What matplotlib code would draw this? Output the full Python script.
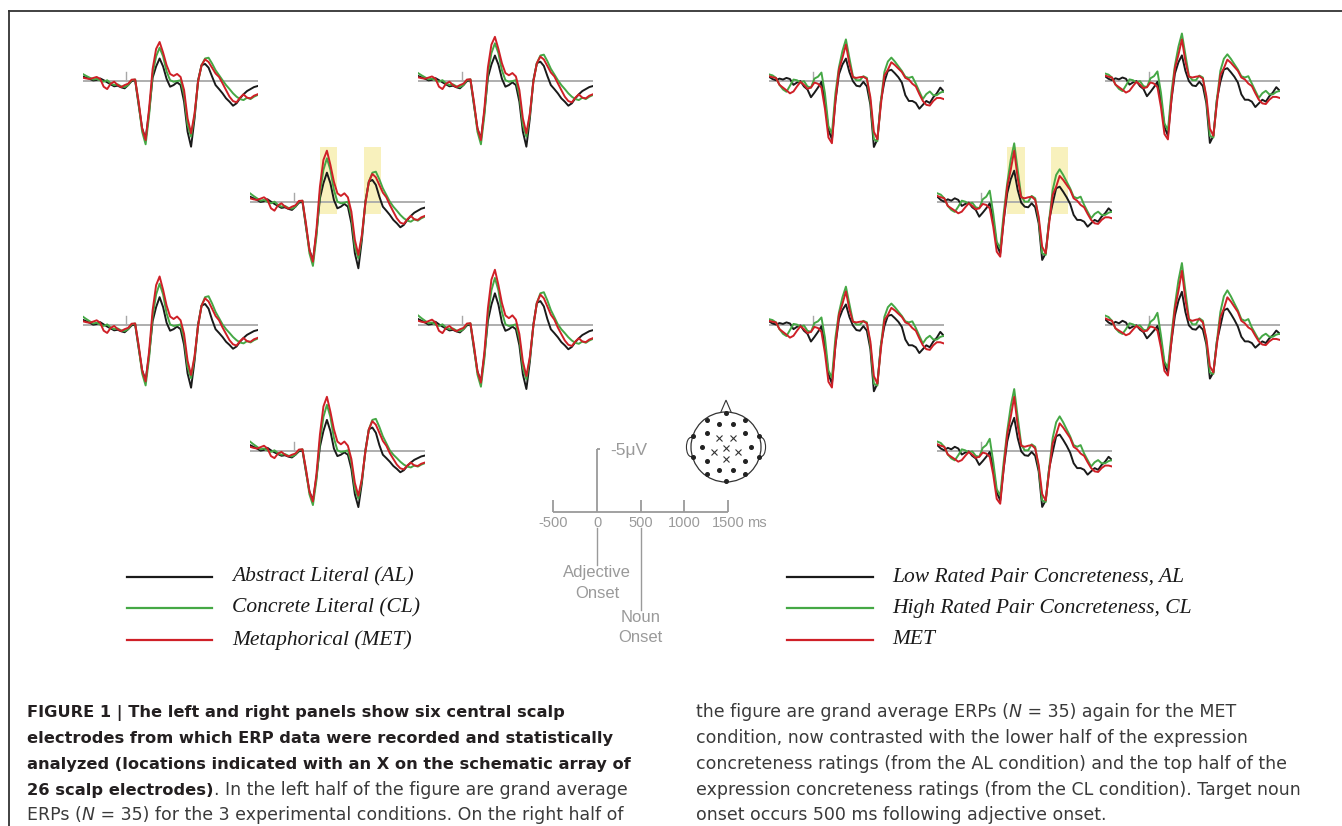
import numpy as np
import matplotlib.pyplot as plt
from matplotlib.lines import Line2D
from matplotlib.patches import Rectangle, Circle, Ellipse, Polygon

W, H = 1342, 826
PX_MS = 0.0874     # pixels per ms
PX_UV = 12.5       # pixels per microvolt
UV_TOP, UV_BOT = -6.0, 7.0

# sample times of the traces (ms from adjective onset)
TIMES_MS = list(range(-500, 1501, 40))

# left half, read from the centre electrode (positive down)
LEFT_AL = [-0.45, -0.32, -0.19, -0.03, -0.08, -0.24, -0.05, 0.13, 0.29, 0.45, 0.40, 0.53, 0.61,
           0.35, 0.03, -0.05, 1.95, 3.81, 4.67, 2.48, -0.32, -1.52, -2.37, -1.52, -0.19, 0.48,
           0.35, 0.13, 0.35, 1.68, 4.08, 5.28, 3.01, -0.05, -1.65, -1.79, -1.39, -0.45, 0.35,
           0.67, 1.01, 1.41, 1.68, 2.00, 1.81, 1.41, 1.09, 0.83, 0.67, 0.51, 0.43]
LEFT_CL = [-0.72, -0.51, -0.32, -0.13, -0.19, -0.03, 0.08, -0.05, 0.21, 0.35, 0.29, 0.45, 0.51,
           0.35, -0.05, -0.13, 1.81, 4.08, 5.09, 2.75, -0.72, -2.59, -3.52, -2.59, -0.99, -0.05,
           0.08, 0.03, -0.05, 1.15, 3.55, 4.48, 2.75, 0.08, -1.65, -2.37, -2.45, -1.84, -1.12,
           -0.59, -0.05, 0.35, 0.67, 1.01, 1.28, 1.47, 1.55, 1.36, 1.47, 1.28, 1.15]
LEFT_MET = [-0.32, -0.24, -0.19, -0.29, -0.40, -0.19, 0.48, 0.67, 0.24, 0.08, 0.35, 0.51, 0.35,
            0.24, -0.11, -0.13, 1.68, 3.81, 4.75, 2.21, -1.25, -3.39, -4.13, -2.99, -1.65, -0.72,
            -0.51, -0.72, -0.40, 0.75, 3.01, 4.21, 2.61, 0.08, -1.65, -2.27, -2.00, -1.39, -0.77,
            -0.40, 0.21, 0.75, 1.28, 1.63, 1.73, 1.36, 1.09, 1.36, 1.41, 1.20, 1.09]

# right half, read from the centre electrode
RIGHT_LOW = [-0.45, -0.19, -0.05, -0.24, -0.13, -0.32, -0.19, 0.29, 0.13, 0.03, 0.40, 0.61, 1.15,
             0.83, 0.48, 0.08, 1.41, 3.41, 4.08, 1.41, -0.72, -1.84, -2.53, -0.99, 0.03, 0.35,
             0.40, 0.08, 0.40, 1.68, 4.61, 4.08, 1.41, 0.08, -1.12, -1.25, -0.85, -0.40, 0.13,
             1.01, 1.41, 1.41, 1.55, 1.95, 1.68, 1.41, 1.55, 1.15, 0.88, 0.48, 0.75]
RIGHT_HIGH = [-0.72, -0.61, -0.32, 0.29, 0.61, 0.77, 0.35, -0.13, -0.05, 0.13, 0.03, 0.40, 0.48,
              -0.24, -0.45, -0.93, 0.88, 3.15, 3.68, 0.88, -1.52, -3.39, -4.72, -2.59, -0.51, -0.05,
              -0.05, -0.51, -0.32, 1.41, 4.08, 4.21, 1.41, -0.99, -2.19, -2.64, -2.19, -1.65, -1.12,
              -0.45, -0.32, -0.45, 0.21, 0.75, 1.28, 0.93, 0.75, 1.01, 1.01, 0.83, 0.75]
RIGHT_MET = [-0.51, -0.40, -0.32, 0.29, 0.48, 0.67, 0.88, 0.75, 0.40, 0.08, 0.29, 0.56, 0.48,
             0.13, 0.21, 0.48, 1.95, 3.95, 4.35, 1.41, -1.25, -2.59, -4.13, -1.92, -0.40, -0.32,
             -0.40, -0.45, -0.19, 1.15, 3.55, 4.08, 1.68, -0.59, -1.25, -2.11, -1.79, -1.39, -0.99,
             -0.32, -0.13, 0.21, 0.40, 0.93, 1.41, 1.68, 1.73, 1.41, 1.20, 1.20, 1.28]

# size of the negative (up) and positive (down) swings at each electrode,
# relative to the centre one
LEFT_UP = [0.75, 0.85, 1.0, 0.94, 1.07, 1.05]
LEFT_DOWN = [1.0, 1.0, 1.0, 0.95, 0.97, 0.85]
RIGHT_UP = [0.7, 0.8, 1.0, 0.65, 1.05, 1.05]
RIGHT_DOWN = [1.15, 1.08, 1.0, 1.15, 0.93, 0.97]

LEFT_LABELS = ['Abstract Literal (AL)', 'Concrete Literal (CL)', 'Metaphorical (MET)']
RIGHT_LABELS = ['Low Rated Pair Concreteness, AL', 'High Rated Pair Concreteness, CL', 'MET']

WINDOWS_MS = [(300, 500), (800, 1000)]
SCALE_TICKS = [-500, 0, 500, 1000, 1500]

# head schematic (unit radius)
DOT_X = [0, -0.55, 0.55, -0.2, 0.2, -0.55, 0.55, -0.93, 0.93, -0.7, 0.7,
         -0.93, 0.93, -0.55, 0.55, -0.2, 0.2, -0.55, 0.55, 0]
DOT_Y = [0.96, 0.76, 0.76, 0.65, 0.65, 0.41, 0.41, 0.3, 0.3, 0.0, 0.0,
         -0.3, -0.3, -0.4, -0.4, -0.65, -0.65, -0.76, -0.76, -0.96]
CROSS_X = [-0.2, 0.2, -0.33, 0.33, 0, 0]
CROSS_Y = [0.25, 0.25, -0.15, -0.15, -0.02, -0.35]

COLORS = ['#1a1a1a', '#45a845', '#cf2027']
GRAY = '#a8a8a8'
TEXT_GRAY = '#9a9a9a'
SANS = ['Liberation Sans', 'DejaVu Sans']

LEFT_POS = [(82.7, 80.7), (418, 80.7), (250, 202.3), (82.7, 325), (418, 325), (250, 451)]
RIGHT_POS = [(769, 80.7), (1105, 80.7), (937.3, 202.3), (769, 325), (1105, 325), (937.3, 451)]

fig = plt.figure(figsize=(W / 100, H / 100), dpi=100)


def fy(y):
    return 1 - y / H


def erp_axes(x0, y0):
    ax = fig.add_axes([x0 / W, fy(y0 + UV_BOT * PX_UV), 2000 * PX_MS / W,
                       (UV_BOT - UV_TOP) * PX_UV / H])
    ax.set_xlim(-500, 1500)
    ax.set_ylim(UV_BOT, UV_TOP)
    ax.axis('off')
    return ax


def draw_panel(x0, y0, series, up, down, windows=False):
    ax = erp_axes(x0, y0)
    if windows:
        for a, b in WINDOWS_MS:
            ax.add_patch(Rectangle((a, -4.45), b - a, 5.4, color='#f8f1bd', lw=0, zorder=0))
    ax.plot([-500, 1500], [0, 0], color=GRAY, lw=1.3, zorder=1, solid_capstyle='butt')
    ax.plot([0, 0], [0, -0.72], color=GRAY, lw=1.0, zorder=1)
    for vals, c in zip(series, COLORS):
        v = np.array(vals)
        ax.plot(TIMES_MS, np.where(v < 0, v * up, v * down), color=c, lw=1.4, zorder=2)


left_series = [LEFT_AL, LEFT_CL, LEFT_MET]
right_series = [RIGHT_LOW, RIGHT_HIGH, RIGHT_MET]
for i, (x0, y0) in enumerate(LEFT_POS):
    draw_panel(x0, y0, left_series, LEFT_UP[i], LEFT_DOWN[i], windows=(i == 2))
for i, (x0, y0) in enumerate(RIGHT_POS):
    draw_panel(x0, y0, right_series, RIGHT_UP[i], RIGHT_DOWN[i], windows=(i == 2))

# scale bar
sb = erp_axes(597 - 500 * PX_MS, 511.7)
kw = dict(color=TEXT_GRAY, lw=1.3, clip_on=False, solid_capstyle='butt')
sb.plot([-500, 1500], [0, 0], **kw)
for t in SCALE_TICKS:
    if t == 0:
        sb.plot([0, 0], [0, -5], **kw)
        sb.plot([0, 40], [-5, -5], **kw)
    else:
        sb.plot([t, t], [0, -0.9], **kw)
    sb.text(t, 0.9, str(t), ha='center', va='center', fontsize=10.5,
            color=TEXT_GRAY, family=SANS)
sb.text(1500 + 215, 0.9, 'ms', ha='left', va='center', fontsize=10.5,
        color=TEXT_GRAY, family=SANS)
sb.text(157, -4.93, '-5μV', ha='left', va='center', fontsize=12.5,
        color=TEXT_GRAY, family=SANS)
sb.plot([0, 0], [1.3, 4.3], color=TEXT_GRAY, lw=1.0, clip_on=False)
sb.plot([500, 500], [1.3, 7.85], color=TEXT_GRAY, lw=1.0, clip_on=False)
for x, y, s in [(0, 4.85, 'Adjective'), (0, 6.55, 'Onset'), (500, 8.45, 'Noun'), (500, 10.1, 'Onset')]:
    sb.text(x, y, s, ha='center', va='center', fontsize=12, color=TEXT_GRAY, family=SANS)

# head schematic
hx, hy, r = 726, 447, 35
head = fig.add_axes([(hx - 50) / W, fy(hy + 50), 100 / W, 100 / H])
head.set_xlim(-50 / r, 50 / r)
head.set_ylim(-50 / r, 50 / r)
head.axis('off')
for side in (-1, 1):
    head.add_patch(Ellipse((side * 1.0, 0), 0.26, 0.55, fc='white', ec='#333333', lw=0.8, zorder=1))
head.add_patch(Circle((0, 0), 1.0, fc='white', ec='#333333', lw=0.9, zorder=2))
head.add_patch(Polygon([(-0.15, 0.99), (0, 1.34), (0.15, 0.99)], closed=False,
                       fill=False, ec='#333333', lw=0.8, zorder=2))
head.plot(DOT_X, DOT_Y, 'o', color='#222222', ms=2.6, zorder=3)
head.plot(CROSS_X, CROSS_Y, 'x', color='#333333', ms=4.0, mew=0.8, zorder=3)

# legends
for i, y in enumerate([577, 608, 640]):
    fig.add_artist(Line2D([127 / W, 212 / W], [fy(y), fy(y)], color=COLORS[i], lw=1.6))
    fig.text(232 / W, fy(y), LEFT_LABELS[i], ha='left', va='center', fontsize=15.5,
             style='italic', family='Liberation Serif', color='#1a1a1a')
    fig.add_artist(Line2D([787 / W, 873 / W], [fy(y), fy(y)], color=COLORS[i], lw=1.6))
    fig.text(892 / W, fy(y), RIGHT_LABELS[i], ha='left', va='center', fontsize=15.5,
             style='italic', family='Liberation Serif', color='#1a1a1a')

# frame
fig.add_artist(Line2D([9 / W, 1], [fy(11), fy(11)], color='#333333', lw=1.3))
fig.add_artist(Line2D([9 / W, 9 / W], [fy(11), 0], color='#333333', lw=1.3))

# caption
renderer = fig.canvas.get_renderer()


def caption_line(x, y, pieces):
    for txt, weight, style in pieces:
        bold = weight == 'bold'
        t = fig.text(x / W, fy(y), txt, fontsize=11.7 if bold else 12.5, weight=weight,
                     style=style, family='DejaVu Sans', ha='left', va='baseline',
                     color='#231f20' if bold else '#3a3a3a')
        x += t.get_window_extent(renderer).width


B, R = 'bold', 'normal'
left_caption = [
    [('FIGURE 1 | The left and right panels show six central scalp', B, 'normal')],
    [('electrodes from which ERP data were recorded and statistically', B, 'normal')],
    [('analyzed (locations indicated with an X on the schematic array of', B, 'normal')],
    [('26 scalp electrodes)', B, 'normal'),
     ('. In the left half of the figure are grand average', R, 'normal')],
    [('ERPs (', R, 'normal'), ('N', R, 'italic'),
     (' = 35) for the 3 experimental conditions. On the right half of', R, 'normal')],
]
right_caption = [
    [('the figure are grand average ERPs (', R, 'normal'), ('N', R, 'italic'),
     (' = 35) again for the MET', R, 'normal')],
    [('condition, now contrasted with the lower half of the expression', R, 'normal')],
    [('concreteness ratings (from the AL condition) and the top half of the', R, 'normal')],
    [('expression concreteness ratings (from the CL condition). Target noun', R, 'normal')],
    [('onset occurs 500 ms following adjective onset.', R, 'normal')],
]
for k, y in enumerate([717, 743, 769, 795, 820]):
    caption_line(27, y, left_caption[k])
    caption_line(696, y, right_caption[k])

fig.savefig('out.png', dpi=100)
